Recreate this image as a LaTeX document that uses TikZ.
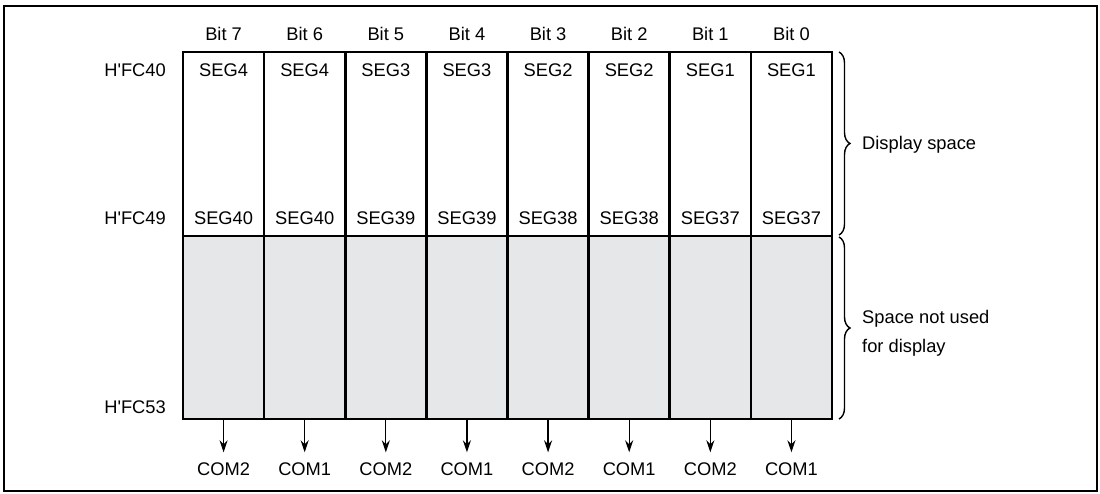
\documentclass[tikz,border=0pt]{standalone}
\usepackage{fontspec}
\setmainfont{Liberation Sans}
\usetikzlibrary{decorations.pathreplacing,arrows.meta}
\definecolor{cellgray}{HTML}{E6E7E8}
\newcommand{\hq}{H\textquotesingle FC}
\begin{document}
\begin{tikzpicture}[x=1pt,y=-1pt,
  every node/.style={font=\fontsize{18.3}{22}\selectfont},
  txt/.style={inner sep=0pt},
  ucell/.style={draw,line width=2.6pt,minimum width=81.125pt,minimum height=184pt,inner sep=0pt},
  lcell/.style={draw,line width=2.6pt,fill=cellgray,minimum width=81.125pt,minimum height=183pt,inner sep=0pt},
  arr/.style={-{Stealth[length=12pt,width=8pt]},line width=1.3pt},
  brc/.style={decorate,decoration={brace,amplitude=11pt},line width=1.4pt}]
\useasboundingbox (0,0) rectangle (1100,494);
\node[draw,line width=2.4pt,minimum width=1093pt,minimum height=485pt,inner sep=0pt,anchor=north west] (frame) at (3,5) {};
% columns
\foreach \i/\b/\st/\sb/\c in {1/7/4/40/2,2/6/4/40/1,3/5/3/39/2,4/4/3/39/1,5/3/2/38/2,6/2/2/38/1,7/1/1/37/2,8/0/1/37/1}{
  \pgfmathsetmacro\cx{183+81.125*(\i-0.5)}
  \node[lcell] (l\i) at (\cx,327.5) {};
  \node[ucell] (u\i) at (\cx,144) {};
  \node[txt] (bit\i) at (\cx,34) {Bit \b};
  \node[txt] (st\i) at (\cx,70) {SEG\st};
  \node[txt] (sb\i) at (\cx,218) {SEG\sb};
  \node[txt] (com\i) at (\cx,469) {COM\c};
  \draw[arr,shorten >=10pt] (l\i.south) -- (com\i.north);
}
% addresses
\node[txt,anchor=east] (a40) at (166,70) {\hq40};
\node[txt,anchor=east] (a49) at (166,218) {\hq49};
\node[txt,anchor=east] (a53) at (166,407) {\hq53};
% braces
\coordinate (b1t) at (839,52);
\coordinate (b1b) at (839,235);
\coordinate (b2t) at (839,237);
\coordinate (b2b) at (839,419);
\draw[brc] (b1t) -- (b1b);
\draw[brc] (b2t) -- (b2b);
\node[txt,anchor=west] (ds) at (862,145) {Display space};
\node[txt,anchor=west,align=left] (nu) at (862,333) {Space not used\\[7pt]for display};
\end{tikzpicture}
\end{document}
